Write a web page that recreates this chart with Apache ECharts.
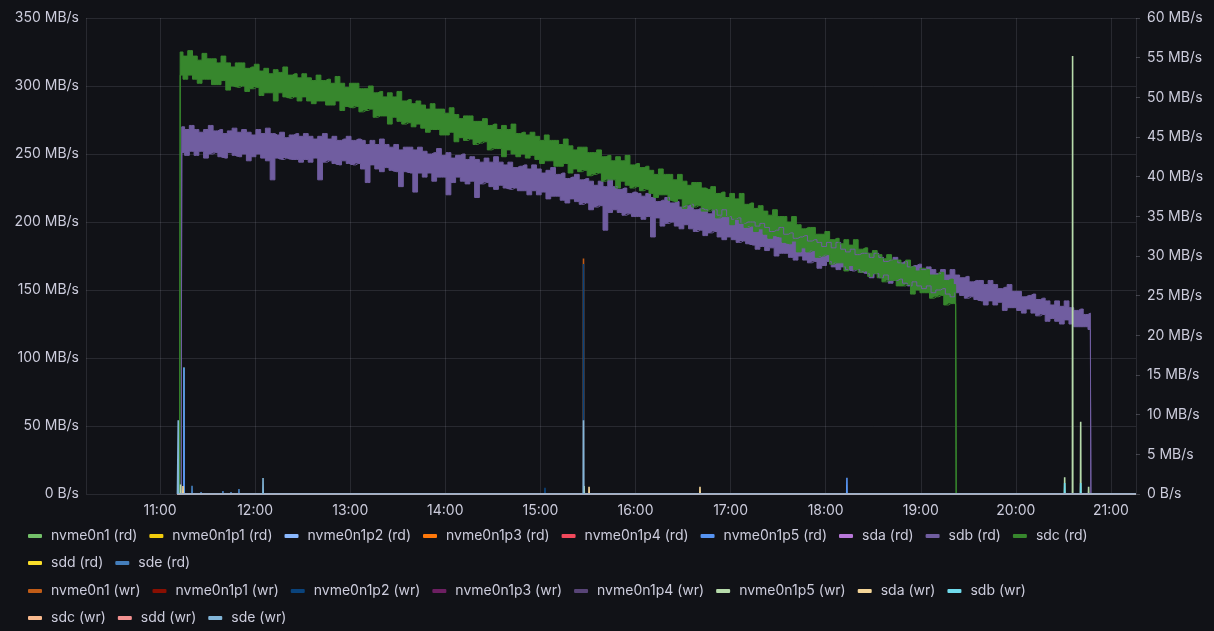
<!DOCTYPE html>
<html><head><meta charset="utf-8">
<script src="https://cdn.jsdelivr.net/npm/echarts@6/dist/echarts.min.js"></script>
<style>html,body{margin:0;padding:0;background:#111217;}#c{width:1214px;height:631px;}</style>
</head><body><div id="c"></div>
<script>
// ---- time reference: minutes after 11:00 ----
const T0 = new Date(2024, 0, 15, 11, 0, 0).getTime();
const X_START_MIN = -46.7;   // left edge of the panel (~10:13)
const X_END_MIN = 615.8;     // right edge (~21:16)
const SERIES_START_MIN = 11.0;
const BAND_STEP = 3;         // minutes between band samples

// ---- sdc (rd): sampled every 3 min from 11:13 (MB/s, low / high edge of the noisy band) ----
const sdcStart = 13;
const sdcHi = [325,322,326,322,319,324,320,320,317,322,317,314,317,317,313,314,
316,311,313,309,312,310,314,308,309,306,309,306,304,308,304,305,302,307,302,299,
302,302,298,298,300,295,296,292,295,292,296,289,290,287,289,286,283,287,283,283,
280,284,279,276,278,278,274,274,276,271,272,268,271,268,272,265,266,264,266,263,
260,264,260,260,257,261,256,253,255,255,251,251,253,248,249,245,248,245,249,242,
243,240,241,238,235,239,235,235,231,235,230,227,229,229,225,224,226,221,222,218,
221,217,221,213,214,210,212,208,205,209,204,204,200,204,198,195,196,196,191,191,
193,187,188,184,187,183,187,180,181,177,179,176,173,176,172,172,169,172,167,164,
166,165,161,161,163,157,158,154];
const sdcLo = [308,305,308,305,302,305,305,301,301,304,297,300,299,300,296,298,
299,293,295,295,289,295,292,291,292,289,292,289,287,289,289,286,286,289,282,285,
284,285,281,282,283,277,278,278,272,277,274,272,273,270,272,269,266,268,268,264,
264,266,259,262,260,261,257,258,259,253,254,254,248,253,250,248,250,247,249,246,
243,245,245,241,241,243,236,239,237,238,234,235,236,230,231,231,225,230,227,225,
226,223,224,221,218,220,220,216,215,217,210,213,211,212,208,208,209,203,204,204,
198,202,199,196,197,193,195,191,188,190,189,185,184,186,178,181,178,179,174,175,
176,169,170,170,164,168,165,163,164,160,162,159,156,157,157,153,153,154,147,150,
148,148,144,145,146,139,140,140];

// ---- sdb (rd): sampled every 3 min from 11:14 ----
const sdbStart = 14;
const sdbHi = [270,268,271,268,266,268,271,267,268,265,267,269,266,268,266,264,
268,265,269,265,264,266,262,264,265,263,265,263,261,263,265,261,263,260,261,263,
260,261,260,257,260,257,261,257,255,257,253,255,255,253,255,252,250,251,254,249,
251,247,249,250,246,248,246,244,247,244,248,244,242,244,240,241,242,239,242,239,
236,238,240,235,236,232,233,235,231,232,230,227,230,226,231,226,224,225,221,222,
221,219,221,218,215,216,218,214,215,211,212,213,209,210,209,206,209,205,209,204,
202,203,199,200,200,197,199,196,193,194,196,191,192,188,189,190,186,187,185,182,
185,181,185,180,178,180,176,177,177,174,177,174,171,172,174,170,171,167,168,169,
165,167,165,162,165,161,165,161,159,160,156,157,157,154,157,154,151,152,154,149,
149,145,146,147,143,144,142,139,142,138,142,137,135,136,132,133];
const sdbLo = [251,249,252,249,252,247,250,251,248,247,251,249,248,250,245,248,
250,247,245,231,247,246,247,246,246,244,246,244,247,231,244,245,243,242,245,243,
242,243,239,229,242,239,237,240,238,237,226,237,236,222,236,233,236,230,233,233,
220,229,233,230,228,230,218,228,229,226,224,227,225,224,225,223,223,220,223,220,
222,217,219,219,216,214,217,215,213,214,209,211,212,194,207,209,207,205,206,204,
204,202,204,189,203,197,199,200,197,195,198,195,193,194,190,192,193,189,187,189,
187,185,186,184,183,180,182,179,181,175,177,177,174,172,175,172,170,171,166,168,
171,167,165,167,165,164,165,163,162,159,162,159,161,155,157,158,155,153,156,153,
151,153,148,150,151,147,145,148,146,144,145,143,142,139,142,139,141,135,137,137,
135,133,136,133,131,132,127,129,127,125,128,125,123,123,123,121];

// ---- short spikes of the other series: [minute after 11:00, MB/s] ----
const spikesNvme0n1Rd   = [[15.1, 93]];
const spikesNvme0n1p5Rd = [[15.1, 93], [433.4, 12]];
const spikesSdeRd       = [[20.2, 6], [25.9, 1.5], [39.7, 2.2], [44.8, 1.5], [49.8, 3.7], [54.9, 0.8]];
const spikesNvme0n1Wr   = [[267.2, 29.7]];
const spikesNvme0n1p2Wr = [[242.9, 0.8], [267.2, 29.0]];
const spikesNvme0n1p5Wr = [[13.0, 1.2], [267.6, 1.0], [570.8, 2.1], [575.8, 55.2], [580.9, 9.1], [585.9, 0.9]];
const spikesSdaWr       = [[14.5, 1.0], [270.7, 0.9], [340.7, 0.9]];
const spikesSdbWr       = [[570.8, 1.4], [580.9, 1.4]];
const spikesSdeWr       = [[11.5, 9.3], [65.0, 2.0], [267.2, 9.3]];

// ---- series names, colours, axes ----
const readNames  = ['nvme0n1 (rd)','nvme0n1p1 (rd)','nvme0n1p2 (rd)','nvme0n1p3 (rd)','nvme0n1p4 (rd)','nvme0n1p5 (rd)','sda (rd)','sdb (rd)','sdc (rd)','sdd (rd)','sde (rd)'];
const readColors = ['#73BF69','#F2CC0C','#8AB8FF','#FF780A','#F2495C','#5794F2','#B877D9','#705DA0','#37872D','#FADE2A','#447EBC'];
const writeNames  = ['nvme0n1 (wr)','nvme0n1p1 (wr)','nvme0n1p2 (wr)','nvme0n1p3 (wr)','nvme0n1p4 (wr)','nvme0n1p5 (wr)','sda (wr)','sdb (wr)','sdc (wr)','sdd (wr)','sde (wr)'];
const writeColors = ['#C15C17','#890F02','#0A437C','#6D1F62','#584477','#B7DBAB','#F4D598','#70DBED','#F9BA8F','#F29191','#82B5D8'];
const leftTicks  = [0,50,100,150,200,250,300,350];
const rightTicks = [0,5,10,15,20,25,30,35,40,45,50,55,60];

const spikeMap = {
  'nvme0n1 (rd)': spikesNvme0n1Rd, 'nvme0n1p5 (rd)': spikesNvme0n1p5Rd, 'sde (rd)': spikesSdeRd,
  'nvme0n1 (wr)': spikesNvme0n1Wr, 'nvme0n1p2 (wr)': spikesNvme0n1p2Wr, 'nvme0n1p5 (wr)': spikesNvme0n1p5Wr,
  'sda (wr)': spikesSdaWr, 'sdb (wr)': spikesSdbWr, 'sde (wr)': spikesSdeWr
};
const bands = {
  'sdb (rd)': {start: sdbStart, lo: sdbLo, hi: sdbHi},
  'sdc (rd)': {start: sdcStart, lo: sdcLo, hi: sdcHi}
};

const toT = m => T0 + Math.round(m * 60000);
const SPIKE_HALF = 0.12;

function spikeData(list) {
  const d = [[toT(SERIES_START_MIN), 0]];
  list.forEach(([m, v]) => { d.push([toT(m - SPIKE_HALF), 0], [toT(m), v], [toT(m + SPIKE_HALF), 0]); });
  d.push([toT(X_END_MIN), 0]);
  return d;
}

const baseLine = { symbol: 'none', showSymbol: false, animation: false, silent: true };
const series = [];
function addSeries(name, color, axis) {
  if (bands[name]) {
    const b = bands[name];
    const end = b.start + (b.lo.length - 1) * BAND_STEP;
    const loD = [[toT(SERIES_START_MIN), 0], [toT(b.start - 0.6), 0]];
    const bandD = [[toT(SERIES_START_MIN), 0], [toT(b.start - 0.6), 0]];
    b.lo.forEach((v, i) => {
      const t = toT(b.start + i * BAND_STEP);
      loD.push([t, v]); bandD.push([t, b.hi[i] - v]);
    });
    loD.push([toT(end + 0.6), 0], [toT(X_END_MIN), 0]);
    bandD.push([toT(end + 0.6), 0], [toT(X_END_MIN), 0]);
    const key = 'band_' + name;
    series.push(Object.assign({}, baseLine, { type: 'line', name: '_' + name, yAxisIndex: axis, stack: key, step: 'middle', data: loD, color: color, lineStyle: { width: 1, color: color } }));
    series.push(Object.assign({}, baseLine, { type: 'line', name: name, yAxisIndex: axis, stack: key, step: 'middle', data: bandD, color: color, lineStyle: { width: 1, color: color }, areaStyle: { color: color, opacity: 1 } }));
  } else {
    series.push(Object.assign({}, baseLine, { type: 'line', name: name, yAxisIndex: axis, data: spikeData(spikeMap[name] || []), color: color, lineStyle: { width: 1.6, color: color } }));
  }
}
readNames.forEach((n, i) => addSeries(n, readColors[i], 0));
writeNames.forEach((n, i) => addSeries(n, writeColors[i], 1));

const legendRows = [readNames.slice(0, 9), readNames.slice(9), writeNames.slice(0, 8), writeNames.slice(8)];
const legendTops = [528, 555, 583, 610];
const TXT = '#ccccdc';
const GRID = 'rgba(204,204,220,0.13)';
const fmtRate = v => v === 0 ? '0 B/s' : v + ' MB/s';

const chart = echarts.init(document.getElementById('c'), null, { renderer: 'canvas' });
chart.setOption({
  backgroundColor: '#111217',
  animation: false,
  grid: { left: 86, right: 78, top: 18, bottom: 137, containLabel: false },
  legend: legendRows.map((row, i) => ({
    data: row, left: 28, top: legendTops[i], orient: 'horizontal', padding: 0,
    itemGap: 12, itemWidth: 14, itemHeight: 4, icon: 'roundRect', selectedMode: false,
    textStyle: { color: TXT, fontSize: 14, fontFamily: 'Inter', padding: [0, 0, 0, 4], lineHeight: 16 }
  })),
  xAxis: {
    type: 'time', min: toT(X_START_MIN), max: toT(X_END_MIN),
    minInterval: 3600000, maxInterval: 3600000,
    axisLabel: { color: TXT, fontSize: 14, fontFamily: 'Inter', margin: 10, formatter: '{HH}:{mm}' },
    axisLine: { show: false }, axisTick: { show: false },
    splitLine: { show: true, lineStyle: { color: GRID, width: 1 } }
  },
  yAxis: [{
    type: 'value', position: 'left', min: leftTicks[0], max: leftTicks[leftTicks.length - 1], interval: 50,
    axisLabel: { color: TXT, fontSize: 14, fontFamily: 'Inter', margin: 7, formatter: fmtRate },
    axisLine: { show: false }, axisTick: { show: false },
    splitLine: { show: true, lineStyle: { color: GRID, width: 1 } }
  }, {
    type: 'value', position: 'right', min: rightTicks[0], max: rightTicks[rightTicks.length - 1], interval: 5,
    axisLabel: { color: TXT, fontSize: 14, fontFamily: 'Inter', margin: 11, formatter: fmtRate },
    axisLine: { show: false }, axisTick: { show: true, length: 4, lineStyle: { color: 'rgba(204,204,220,0.25)' } },
    splitLine: { show: false }
  }],
  series: series
});
</script>
</body></html>
